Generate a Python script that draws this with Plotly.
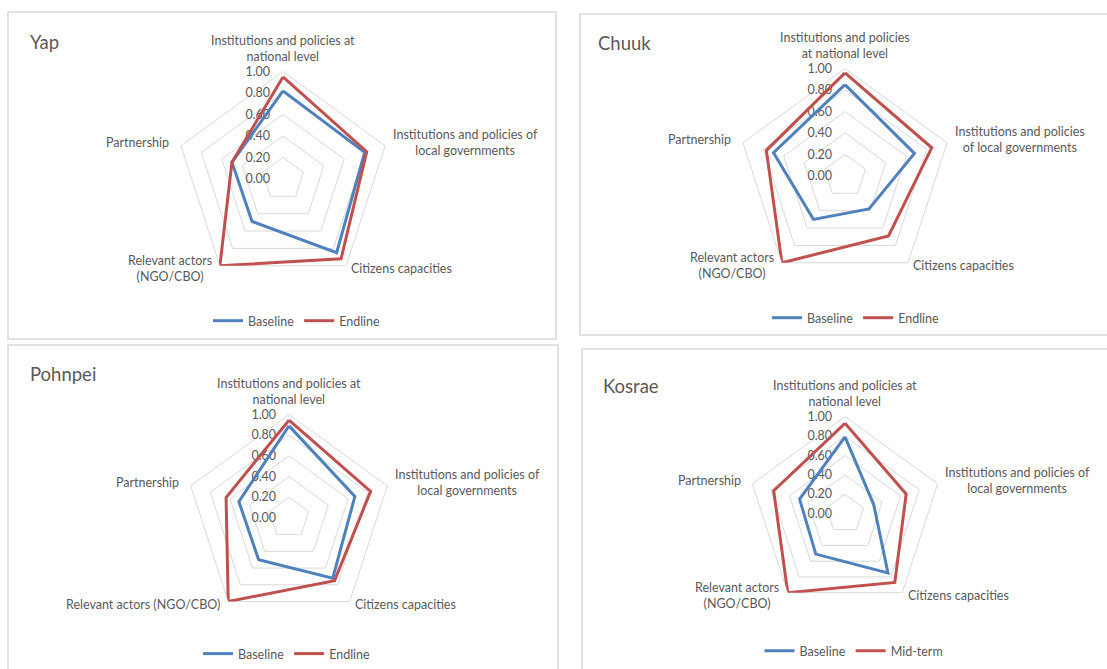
import math
import plotly.graph_objects as go

W, H = 1107, 669

# Dimensions of the assessment (clockwise from the top)
dimensions = [
    "Institutions and policies at national level",
    "Institutions and policies of local governments",
    "Citizens capacities",
    "Relevant actors (NGO/CBO)",
    "Partnership",
]

# Scores per state
yap_baseline = [0.82, 0.80, 0.85, 0.49, 0.50]
yap_endline = [0.95, 0.82, 0.92, 1.00, 0.50]

chuuk_baseline = [0.85, 0.68, 0.38, 0.50, 0.70]
chuuk_endline = [0.96, 0.85, 0.69, 1.00, 0.77]

pohnpei_baseline = [0.89, 0.67, 0.72, 0.50, 0.51]
pohnpei_endline = [0.945, 0.83, 0.75, 1.00, 0.64]

kosrae_baseline = [0.79, 0.31, 0.75, 0.51, 0.49]
kosrae_midterm = [0.93, 0.66, 0.87, 1.00, 0.77]

# Axis label wrapping used in each panel
labels_yap = [
    "Institutions and policies at<br>national level",
    "Institutions and policies of<br>local governments",
    "Citizens capacities",
    "Relevant actors<br>(NGO/CBO)",
    "Partnership",
]
labels_chuuk = [
    "Institutions and policies<br>at national level",
    "Institutions and policies<br>of local governments",
    "Citizens capacities",
    "Relevant actors<br>(NGO/CBO)",
    "Partnership",
]
labels_pohnpei = [
    "Institutions and policies at<br>national level",
    "Institutions and policies of<br>local governments",
    "Citizens capacities",
    "Relevant actors (NGO/CBO)",
    "Partnership",
]
labels_kosrae = labels_yap

radial_ticks = [0.0, 0.2, 0.4, 0.6, 0.8, 1.0]

BLUE = "#4F81BD"
RED = "#C0504D"
TEXT = "#595959"
GRID = "#D9D9D9"
FONT = "Lato"
FSIZE = 12.5

# label placement next to each spoke end: (dx, dy, xanchor, yanchor)
label_place = [
    (0, -6, "center", "bottom"),
    (5, -3, "left", "middle"),
    (3, 3, "left", "middle"),
    (-6, 3, "right", "middle"),
    (-9, -3, "right", "middle"),
]

# panel: title, series, labels, radar centre (px), radius (px), frame (px),
# legend centre (px), title offset from frame corner (px)
panels = [
    dict(title="Yap", s1=("Baseline", yap_baseline), s2=("Endline", yap_endline),
         labels=labels_yap, c=(283, 180), R=108, frame=(8, 12, 556, 341), leg=(297, 323),
         toff=(20, 30)),
    dict(title="Chuuk", s1=("Baseline", chuuk_baseline), s2=("Endline", chuuk_endline),
         labels=labels_chuuk, c=(845, 177), R=108, frame=(580, 14, 1112, 337), leg=(856, 320),
         toff=(16, 29)),
    dict(title="Pohnpei", s1=("Baseline", pohnpei_baseline), s2=("Endline", pohnpei_endline),
         labels=labels_pohnpei, c=(289, 521), R=104, frame=(8, 347, 558, 675), leg=(287, 658),
         toff=(20, 29)),
    dict(title="Kosrae", s1=("Baseline", kosrae_baseline), s2=("Mid-term", kosrae_midterm),
         labels=labels_kosrae, c=(845, 517), R=98, frame=(582, 351, 1112, 675), leg=(854, 655),
         toff=(19, 37)),
]

fig = go.Figure()
layout = {}
shapes = []
annotations = []


def closed(vals):
    return list(vals) + [vals[0]]


for i, p in enumerate(panels):
    k = "" if i == 0 else str(i + 1)
    polar_id = "polar" + k
    legend_id = "legend" + k
    for name, vals, color in [(p["s1"][0], p["s1"][1], BLUE), (p["s2"][0], p["s2"][1], RED)]:
        fig.add_trace(go.Scatterpolar(
            r=closed(vals), theta=closed(dimensions), mode="lines", name=name,
            line=dict(color=color, width=3), subplot=polar_id, legend=legend_id,
            hoverinfo="skip",
        ))
    cx, cy = p["c"]
    R = p["R"]
    layout[polar_id] = dict(
        domain=dict(x=[(cx - R) / W, (cx + R) / W], y=[(H - cy - R) / H, (H - cy + R) / H]),
        gridshape="linear",
        bgcolor="rgba(0,0,0,0)",
        radialaxis=dict(
            range=[0, 1], tickvals=radial_ticks, tickformat=".2f", angle=90,
            side="counterclockwise", tickangle=90, showline=False,
            gridcolor=GRID, gridwidth=1, ticks="outside", ticklen=8,
            tickcolor="rgba(0,0,0,0)", tickfont=dict(family=FONT, size=FSIZE, color=TEXT),
            layer="below traces",
        ),
        angularaxis=dict(
            direction="clockwise", rotation=90, categoryorder="array",
            categoryarray=dimensions, showticklabels=False, showgrid=False,
            showline=True, linecolor=GRID, linewidth=1, ticks="",
            layer="below traces",
        ),
    )
    # category labels placed just outside each spoke end
    for j, text in enumerate(p["labels"]):
        ang = math.radians(90 - 72 * j)
        vx = cx + R * math.cos(ang)
        vy = cy - R * math.sin(ang)
        dx, dy, xa, ya = label_place[j]
        annotations.append(dict(text=text, xref="paper", yref="paper",
                                x=(vx + dx) / W, y=1 - (vy + dy) / H,
                                xanchor=xa, yanchor=ya, showarrow=False, align="center",
                                font=dict(family=FONT, size=FSIZE, color=TEXT)))
    lx, ly = p["leg"]
    layout[legend_id] = dict(
        orientation="h", x=lx / W, y=1 - ly / H, xanchor="center", yanchor="middle",
        font=dict(family=FONT, size=FSIZE, color=TEXT), bgcolor="rgba(0,0,0,0)",
        itemwidth=30, tracegroupgap=0,
    )
    x0, y0, x1, y1 = p["frame"]
    shapes.append(dict(type="rect", xref="paper", yref="paper",
                       x0=x0 / W, x1=x1 / W, y0=1 - y0 / H, y1=1 - y1 / H,
                       line=dict(color=GRID, width=1.5), fillcolor="rgba(0,0,0,0)"))
    tx, ty = p["toff"]
    annotations.append(dict(text=p["title"], xref="paper", yref="paper",
                            x=(x0 + tx) / W, y=1 - (y0 + ty) / H, xanchor="left", yanchor="middle",
                            showarrow=False, font=dict(family=FONT, size=18.5, color=TEXT)))

fig.update_layout(
    width=W, height=H, margin=dict(l=0, r=0, t=0, b=0),
    paper_bgcolor="white", plot_bgcolor="white",
    shapes=shapes, annotations=annotations, **layout,
)

fig.write_html("out.html")
